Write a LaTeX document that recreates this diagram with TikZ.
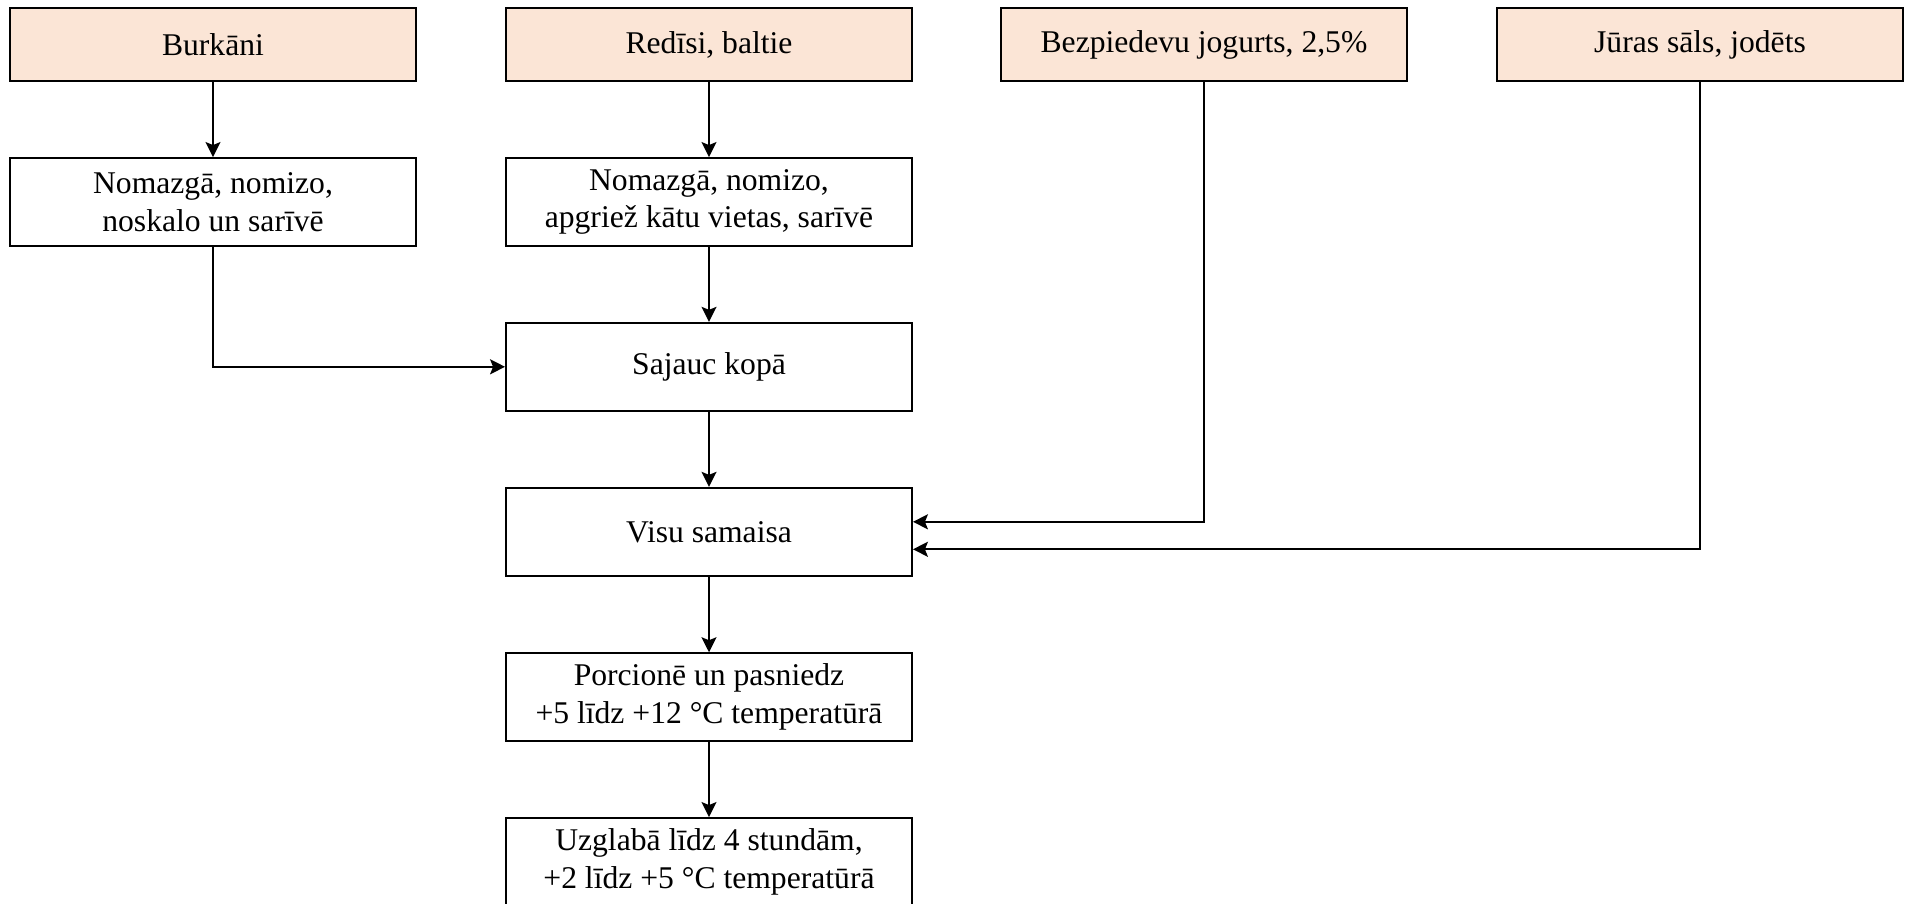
\documentclass[tikz,border=0pt]{standalone}
\usepackage{fontspec}
\setmainfont{Liberation Serif}
\usetikzlibrary{arrows.meta,positioning}
\definecolor{melocoton}{RGB}{251, 229, 214}
\definecolor{negro}{RGB}{0, 0, 0}

\begin{document}
\begin{tikzpicture}[x=0.02cm,y=-0.02cm,>={Stealth[length=0.3cm,width=0.3cm,inset=0.06cm]},
    caja/.style={draw=negro,line width=1.1pt,minimum width=8.12cm,minimum height=1.76cm,
      align=center,inner sep=2pt,font=\fontsize{18}{21.5}\selectfont},
    producto/.style={caja,fill=melocoton,minimum height=1.45cm}]
        \useasboundingbox (0,0) rectangle (1907,903);
        % materias primas
        \node[producto] (burk) at (213,44.7) {Burkāni};
        \node[producto] (red) at (709,44.7) {Redīsi, baltie};
        \node[producto] (jog) at (1204,44.7) {Bezpiedevu jogurts, 2,5\%};
        \node[producto] (sal) at (1700,44.7) {Jūras sāls, jodēts};
        % procesos
        \node[caja] (burkproc) at (213,202) {Nomazgā, nomizo,\\noskalo un sarīvē};
        \node[caja] (redproc) at (709,202) {Nomazgā, nomizo,\\apgriež kātu vietas, sarīvē};
        \node[caja] (sajauc) at (709,366.8) {Sajauc kopā};
        \node[caja] (visu) at (709,531.8) {Visu samaisa};
        \node[caja] (porc) at (709,697.2) {Porcionē un pasniedz\\+5 līdz +12 °C temperatūrā};
        \node[caja] (uzgl) at (709,862) {Uzglabā līdz 4 stundām,\\+2 līdz +5 °C temperatūrā};
        \foreach \a/\b in {burk/burkproc,red/redproc,redproc/sajauc,sajauc/visu,visu/porc,porc/uzgl}
          \draw[->,line width=1pt] (\a) -- (\b);
        \draw[->,line width=1pt] (burkproc.south) |- (sajauc.west);
        \draw[->,line width=1pt] (jog.south) |- ([yshift=0.2cm]visu.east);
        \draw[->,line width=1pt] (sal.south) |- ([yshift=-0.35cm]visu.east);
      \end{tikzpicture}
\end{document}
